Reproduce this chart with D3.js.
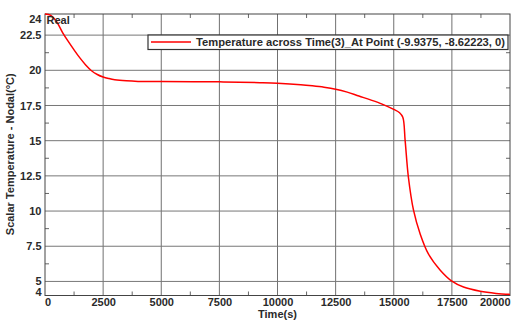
<!DOCTYPE html>
<html>
<head>
<meta charset="utf-8">
<script src="https://cdn.jsdelivr.net/npm/d3@7"></script>
<style>
  body { margin: 0; background: #fff; }
  text { font-family: "Liberation Sans", Arial, sans-serif; font-weight: bold; fill: #2a2a2a; }
</style>
</head>
<body>
<div id="chart"></div>
<script>
// temperature at the probe point
const times = [0, 250, 500, 750, 1000, 1250, 1500, 1750, 2000, 2250, 2500, 2750, 3000, 3500, 4000, 5000,
    7500, 9250, 10000, 11000, 11500, 12000, 12500, 13000, 13500, 14000, 14500, 15000, 15250, 15390,
    15490, 15630, 15850, 16140, 16490, 17000, 17500, 18000, 18720, 19400, 20000];
const temps = [24.0, 23.9, 23.45, 22.7, 22.05, 21.45, 20.88, 20.38, 19.97, 19.7, 19.52, 19.41, 19.33, 19.25, 19.21, 19.2,
    19.18, 19.12, 19.08, 18.98, 18.9, 18.8, 18.66, 18.45, 18.17, 17.9, 17.6, 17.22, 16.98, 16.66,
    15.0, 12.4, 10.06, 8.35, 6.95, 5.8, 5.02, 4.6, 4.3, 4.15, 4.08];

const xTicks = [0, 2500, 5000, 7500, 10000, 12500, 15000, 17500, 20000];
const xMinor = [1250, 3750, 6250, 8750, 11250, 13750, 16250, 18750];
const yTicks = [4, 5, 7.5, 10, 12.5, 15, 17.5, 20, 22.5, 24];
const yMinor = [6.25, 8.75, 11.25, 13.75, 16.25, 18.75, 21.25];
const legendLabel = "Temperature across Time(3)_At Point (-9.9375, -8.62223, 0)";

const W = 525, H = 327;
const margin = { top: 14, right: 15, bottom: 31.5, left: 45 };
const width = W - margin.left - margin.right;
const height = H - margin.top - margin.bottom;

const svg = d3.select("#chart").append("svg")
    .attr("width", W)
    .attr("height", H)
  .append("g")
    .attr("transform", "translate(" + margin.left + "," + margin.top + ")");

const x = d3.scaleLinear().domain([0, 20000]).range([0, width]);
const y = d3.scaleLinear().domain([4, 24]).range([height, 0]);

// grid
svg.selectAll(".vgrid")
    .data(xTicks.filter(d => d > 0 && d < 20000))
    .enter().append("line")
    .attr("x1", d => x(d)).attr("x2", d => x(d))
    .attr("y1", 0).attr("y2", height)
    .attr("stroke", "#707070").attr("stroke-width", 1);

svg.selectAll(".hgrid")
    .data(yTicks.filter(d => d > 4 && d < 24))
    .enter().append("line")
    .attr("x1", 0).attr("x2", width)
    .attr("y1", d => y(d)).attr("y2", d => y(d))
    .attr("stroke", "#777").attr("stroke-width", 1);

// minor ticks, inside on all four sides
const tk = 4;
xMinor.forEach(d => {
    svg.append("line").attr("x1", x(d)).attr("x2", x(d)).attr("y1", height).attr("y2", height - tk)
        .attr("stroke", "#666");
    svg.append("line").attr("x1", x(d)).attr("x2", x(d)).attr("y1", 0).attr("y2", tk)
        .attr("stroke", "#666");
});
yMinor.forEach(d => {
    svg.append("line").attr("x1", 0).attr("x2", tk).attr("y1", y(d)).attr("y2", y(d))
        .attr("stroke", "#666");
    svg.append("line").attr("x1", width).attr("x2", width - tk).attr("y1", y(d)).attr("y2", y(d))
        .attr("stroke", "#666");
});

// frame
svg.append("rect")
    .attr("width", width).attr("height", height)
    .attr("fill", "none").attr("stroke", "#444").attr("stroke-width", 1);

// axes (labels only)
const xAxis = svg.append("g")
    .attr("transform", "translate(0," + height + ")")
    .call(d3.axisBottom(x).tickValues(xTicks).tickSize(0).tickPadding(3).tickFormat(d3.format("d")));
xAxis.select(".domain").remove();
xAxis.selectAll("text").style("font-size", "11px").attr("fill", "#2a2a2a")
    .attr("text-anchor", d => d === 0 ? "start" : d === 20000 ? "end" : "middle")
    .attr("x", d => d === 0 ? -0.5 : 0);

const yAxis = svg.append("g")
    .call(d3.axisLeft(y).tickValues(yTicks).tickSize(0).tickPadding(3.5).tickFormat(d => d));
yAxis.select(".domain").remove();
yAxis.selectAll("text").style("font-size", "11px").attr("fill", "#2a2a2a")
    .attr("y", d => d === 24 ? 4.5 : d === 4 ? -3.5 : 0);

// curve
svg.append("path")
    .datum(times.map((t, i) => [t, temps[i]]))
    .attr("fill", "none")
    .attr("stroke", "#ff0000")
    .attr("stroke-width", 1.5)
    .attr("d", d3.line().x(d => x(d[0])).y(d => y(d[1])).curve(d3.curveCatmullRom.alpha(0.5)));

// "Real" label
svg.append("text")
    .attr("x", 1.5).attr("y", 9.5)
    .style("font-size", "11px")
    .text("Real");

// legend
const legend = svg.append("g").attr("transform", "translate(103,21)");
legend.append("rect")
    .attr("width", 360).attr("height", 14.5)
    .attr("fill", "#fff").attr("stroke", "#333").attr("stroke-width", 1.2);
legend.append("line")
    .attr("x1", 3).attr("x2", 43).attr("y1", 7).attr("y2", 7)
    .attr("stroke", "#ff0000").attr("stroke-width", 1.5);
legend.append("text")
    .attr("x", 48).attr("y", 11)
    .style("font-size", "11px")
    .attr("textLength", 309).attr("lengthAdjust", "spacingAndGlyphs")
    .text(legendLabel);

// axis titles
svg.append("text")
    .attr("x", width / 2).attr("y", height + 22.5)
    .style("text-anchor", "middle").style("font-size", "11px")
    .text("Time(s)");

svg.append("text")
    .attr("transform", "rotate(-90)")
    .attr("x", -height / 2 + 0.5).attr("y", 13.5 - margin.left)
    .style("text-anchor", "middle").style("font-size", "11px")
    .text("Scalar Temperature - Nodal(°C)");
</script>
</body>
</html>
